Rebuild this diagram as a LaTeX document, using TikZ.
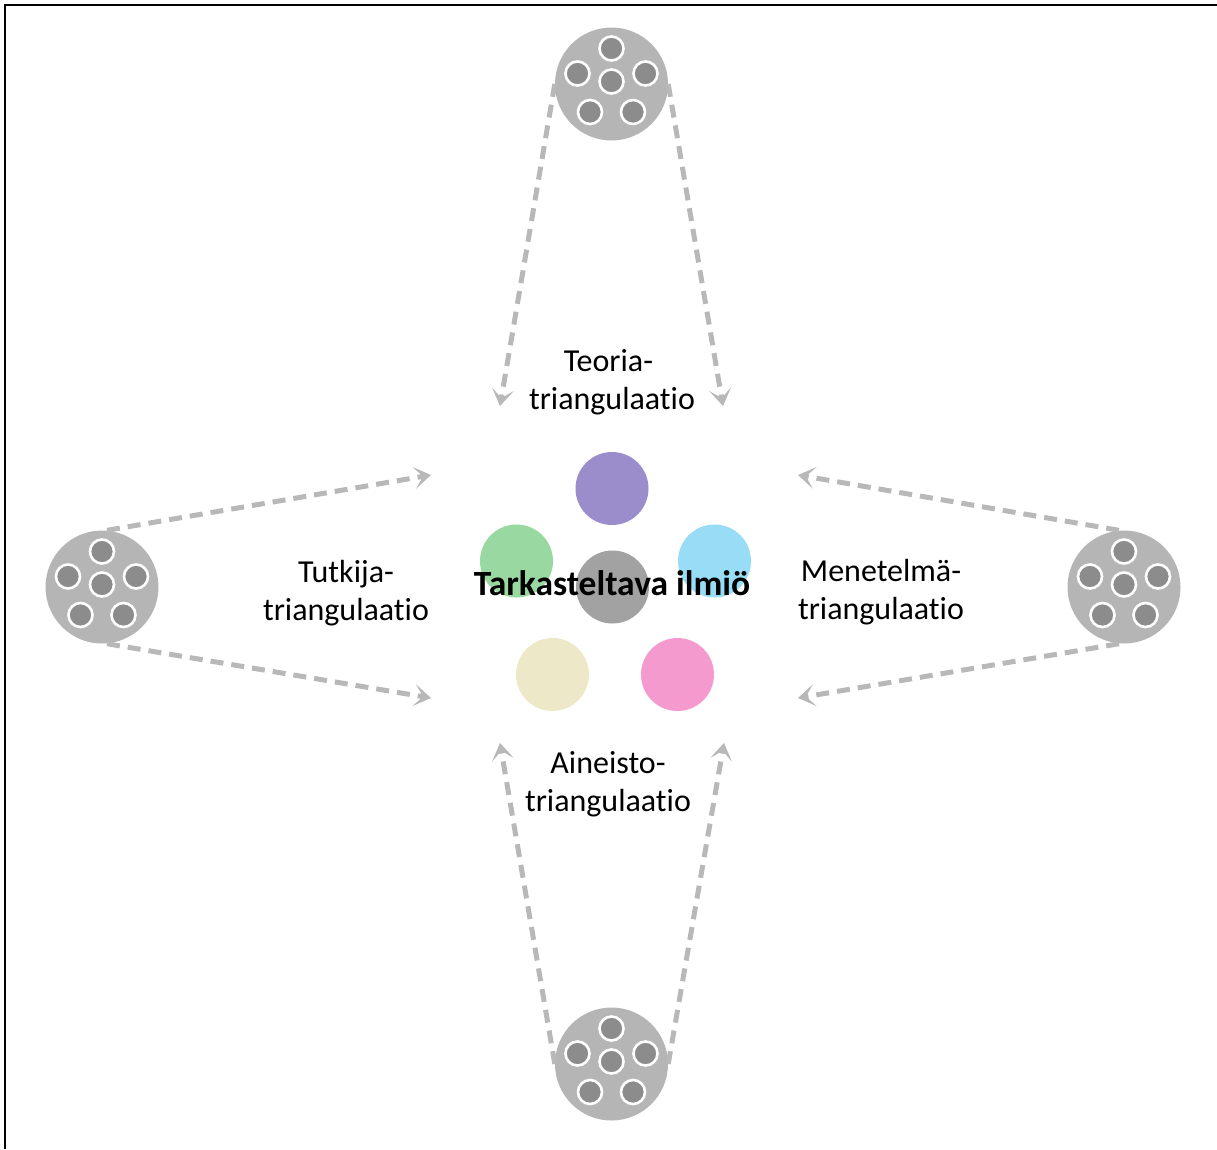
\documentclass[tikz,border=0pt]{standalone}
\usepackage{fontspec}
\setmainfont{Carlito}[Ligatures=NoCommon]
\usetikzlibrary{arrows.meta}

\definecolor{discgray}{HTML}{B5B5B5}
\definecolor{dotgray}{HTML}{8C8C8C}
\definecolor{linkgray}{HTML}{B8B8B8}
\definecolor{cpurple}{HTML}{9B8CCC}
\definecolor{cgreen}{HTML}{99D9A1}
\definecolor{cblue}{HTML}{99DCF6}
\definecolor{cgrey}{HTML}{A2A2A2}
\definecolor{ccream}{HTML}{EDE9C8}
\definecolor{cpink}{HTML}{F49ACF}

\tikzset{
  disc/.style={circle, fill=discgray, minimum size=113pt, inner sep=0pt},
  dot/.style={circle, fill=dotgray, draw=white, line width=2.6pt, minimum size=24pt, inner sep=0pt},
  spot/.style={circle, minimum size=73pt, inner sep=0pt},
  chevron/.tip={Stealth[length=17pt, width=22pt, inset=9pt, line width=1pt]},
  link/.style={draw=linkgray, line width=5pt, dash pattern=on 13pt off 8pt, -chevron},
  label/.style={align=center, inner sep=0pt, font=\fontsize{32}{38}\selectfont},
}

% a grey disc holding six small dots
\newcommand{\cluster}[2]{%
  \node[disc] (#1) at (#2) {};
  \node[dot] at ([shift={(0,-35.5)}]#1.center) {};
  \node[dot] at ([shift={(-34,-10.5)}]#1.center) {};
  \node[dot] at ([shift={(34,-10.5)}]#1.center) {};
  \node[dot] at ([shift={(0,-2.5)}]#1.center) {};
  \node[dot] at ([shift={(-21.5,28)}]#1.center) {};
  \node[dot] at ([shift={(21.5,28)}]#1.center) {};
}

\begin{document}
\begin{tikzpicture}[x=1pt, y=-1pt]
  \useasboundingbox (0,0) rectangle (1217,1149);
  \draw[line width=1.5pt] (5,1149) -- (5,5) -- (1217,5);

  % outer source discs
  \cluster{top}{611.5,84}
  \cluster{left}{102,587}
  \cluster{right}{1124,587}
  \cluster{bottom}{611.5,1064}

  % central phenomenon
  \node[spot, fill=cpurple] (sp1) at (612,488.5) {};
  \node[spot, fill=cgreen]  (sp2) at (516.5,561) {};
  \node[spot, fill=cblue]   (sp3) at (714.5,561) {};
  \node[spot, fill=ccream]  (sp4) at (552.5,674.5) {};
  \node[spot, fill=cpink]   (sp5) at (677.5,674.5) {};
  \node[spot, fill=cgrey]   (sp0) at (612.5,587) {};
  \node[inner sep=0pt, anchor=base, font=\fontsize{35.5}{40}\selectfont\bfseries] (focus) at (612,595) {Tarkasteltava ilmiö};

  % arrow end points
  \coordinate (tA) at (500,406);
  \coordinate (tB) at (723,406);
  \coordinate (bA) at (500,743);
  \coordinate (bB) at (724,743);
  \coordinate (lA) at (431,475);
  \coordinate (lB) at (431,698);
  \coordinate (rA) at (798,475);
  \coordinate (rB) at (798,698);

  \draw[link] (top.west) -- (tA);
  \draw[link] (top.east) -- (tB);
  \draw[link] (bottom.west) -- (bA);
  \draw[link] (bottom.east) -- (bB);
  \draw[link] ([xshift=5pt]left.north) -- (lA);
  \draw[link] ([xshift=5pt]left.south) -- (lB);
  \draw[link] ([xshift=-5pt]right.north) -- (rA);
  \draw[link] ([xshift=-5pt]right.south) -- (rB);

  % triangulation labels
  \node[label] (teoria) at (612,382) {Teoria-\hspace*{7pt}\\triangulaatio};
  \node[label] (tutkija) at (346,593) {Tutkija-\\triangulaatio};
  \node[label] (menetelma) at (881,592) {Menetelmä-\\triangulaatio};
  \node[label] (aineisto) at (608,784) {Aineisto-\\triangulaatio};
\end{tikzpicture}
\end{document}
